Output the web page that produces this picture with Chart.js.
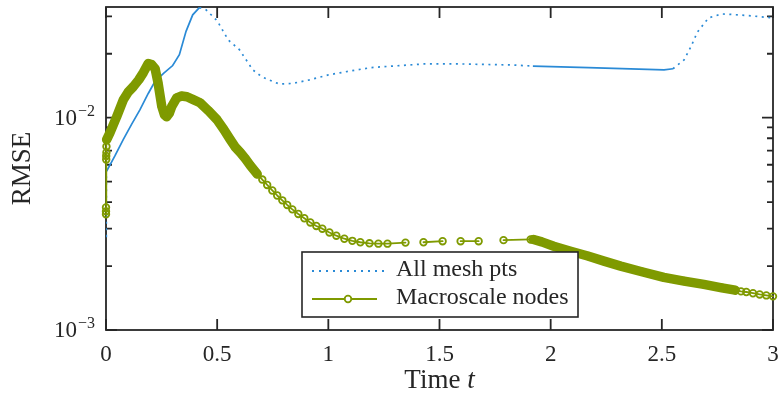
<!DOCTYPE html>
<html>
<head>
<meta charset="utf-8">
<script src="https://cdn.jsdelivr.net/npm/chart.js@4/dist/chart.umd.min.js"></script>
<style>
  html, body { margin: 0; padding: 0; background: #fff; }
</style>
</head>
<body>
<canvas id="c" width="779" height="400"></canvas>
<script>
// values (t, RMSE)
const meshTime = [0, 0, 0.003, 0.04, 0.078, 0.115, 0.153, 0.19, 0.22, 0.26, 0.30, 0.33, 0.36, 0.39, 0.42,
  0.45, 0.50, 0.55, 0.60, 0.66, 0.70, 0.75, 0.78, 0.84, 0.92, 1.00, 1.10, 1.19, 1.29, 1.43,
  1.60, 1.83, 1.92, 2.17, 2.51, 2.55, 2.60, 2.63, 2.66, 2.71, 2.77, 2.84, 2.91, 3.00];
const meshRmse = [2.76e-3, 3.32e-3, 5.6e-3, 6.6e-3, 7.9e-3, 9.3e-3, 1.09e-2, 1.30e-2, 1.48e-2, 1.62e-2, 1.76e-2, 1.98e-2, 2.55e-2, 3.05e-2, 3.30e-2,
  3.22e-2, 2.86e-2, 2.32e-2, 2.09e-2, 1.68e-2, 1.56e-2, 1.48e-2, 1.44e-2, 1.45e-2, 1.51e-2, 1.59e-2, 1.66e-2, 1.72e-2, 1.75e-2, 1.79e-2,
  1.79e-2, 1.77e-2, 1.75e-2, 1.72e-2, 1.68e-2, 1.70e-2, 1.87e-2, 2.15e-2, 2.53e-2, 2.95e-2, 3.08e-2, 3.05e-2, 3.01e-2, 2.95e-2];

const macroTime = [0, 0, 0, 0.001, 0.001, 0.002, 0.002, 0.003, 0.018, 0.048, 0.078, 0.10, 0.123, 0.148, 0.168,
  0.19, 0.205, 0.221, 0.234, 0.251, 0.263, 0.273, 0.285, 0.296, 0.318, 0.34, 0.364, 0.39, 0.423, 0.46,
  0.499, 0.53, 0.559, 0.58, 0.604, 0.627, 0.649, 0.680, 0.703, 0.725, 0.748, 0.770, 0.793, 0.815, 0.838,
  0.865, 0.892, 0.919, 0.946, 0.973, 1.005, 1.036, 1.072, 1.108, 1.144, 1.185, 1.225, 1.266, 1.347, 1.39,
  1.428, 1.514, 1.555, 1.595, 1.676, 1.73, 1.788, 1.910, 1.923, 1.96, 2.014, 2.09, 2.167, 2.24, 2.315,
  2.41, 2.509, 2.60, 2.689, 2.77, 2.83, 2.856, 2.88, 2.91, 2.94, 2.97, 3.00];
const macroRmse = [3.51e-3, 3.62e-3, 3.78e-3, 6.35e-3, 6.6e-3, 6.86e-3, 7.31e-3, 7.88e-3, 8.5e-3, 1.01e-2, 1.215e-2, 1.32e-2, 1.40e-2, 1.51e-2, 1.63e-2,
  1.80e-2, 1.78e-2, 1.70e-2, 1.46e-2, 1.13e-2, 1.03e-2, 1.01e-2, 1.05e-2, 1.13e-2, 1.24e-2, 1.265e-2, 1.255e-2, 1.22e-2, 1.176e-2, 1.08e-2,
  9.79e-3, 8.8e-3, 7.88e-3, 7.3e-3, 6.85e-3, 6.4e-3, 5.95e-3, 5.43e-3, 5.11e-3, 4.82e-3, 4.54e-3, 4.30e-3, 4.08e-3, 3.88e-3, 3.70e-3,
  3.52e-3, 3.36e-3, 3.21e-3, 3.09e-3, 3.00e-3, 2.88e-3, 2.78e-3, 2.69e-3, 2.63e-3, 2.59e-3, 2.56e-3, 2.55e-3, 2.55e-3, 2.58e-3, null,
  2.59e-3, 2.62e-3, null, 2.62e-3, 2.62e-3, null, 2.65e-3, 2.67e-3, 2.67e-3, 2.60e-3, 2.48e-3, 2.35e-3, 2.23e-3, 2.11e-3, 2.00e-3,
  1.88e-3, 1.77e-3, 1.70e-3, 1.64e-3, 1.58e-3, 1.54e-3, 1.52e-3, 1.51e-3, 1.49e-3, 1.47e-3, 1.455e-3, 1.44e-3];

const xTicks = [0, 0.5, 1, 1.5, 2, 2.5, 3];
const yMajorTicks = [1e-3, 1e-2];
const yMajorExp = ['\u22123', '\u22122'];
const yMinorTicks = [2e-3, 3e-3, 4e-3, 5e-3, 6e-3, 7e-3, 8e-3, 9e-3, 2e-2, 3e-2];

const AXIS = '#262626';
const BLUE = '#2a8ad6';
const OLIVE = '#7f9a00';
const FONT = '"Liberation Serif", "DejaVu Serif", serif';

function pts(xs, ys) {
  return xs.map((x, i) => ({ x: x, y: ys[i] }));
}

// where the original series is so dense that it reads as solid / as a thick band
function meshSolid(a, b) {
  return (a >= 0.002 && b <= 0.42) || (a >= 1.92 && b <= 2.55);
}
function macroBand(a, b) {
  return (a >= 0.003 && b <= 0.681) || (a >= 1.92 && b <= 2.84);
}

const boxPlugin = {
  id: 'box',
  beforeDatasetsDraw(chart) {
    const { ctx, chartArea: a, scales } = chart;
    ctx.save();
    ctx.strokeStyle = AXIS;
    ctx.lineWidth = 1.8;
    ctx.setLineDash([]);
    ctx.strokeRect(a.left, a.top, a.right - a.left, a.bottom - a.top);
    ctx.beginPath();
    xTicks.forEach(v => {
      const x = scales.x.getPixelForValue(v);
      ctx.moveTo(x, a.bottom); ctx.lineTo(x, a.bottom - 11);
      ctx.moveTo(x, a.top); ctx.lineTo(x, a.top + 11);
    });
    yMajorTicks.forEach(v => {
      const y = scales.y.getPixelForValue(v);
      ctx.moveTo(a.left, y); ctx.lineTo(a.left + 11, y);
      ctx.moveTo(a.right, y); ctx.lineTo(a.right - 11, y);
    });
    yMinorTicks.forEach(v => {
      const y = scales.y.getPixelForValue(v);
      ctx.moveTo(a.left, y); ctx.lineTo(a.left + 6, y);
      ctx.moveTo(a.right, y); ctx.lineTo(a.right - 6, y);
    });
    ctx.stroke();
    ctx.restore();
  },
  afterDraw(chart) {
    const { ctx, chartArea: a, scales } = chart;
    ctx.save();
    ctx.fillStyle = AXIS;
    ctx.textBaseline = 'alphabetic';

    // y tick labels 10^n
    yMajorTicks.forEach((v, i) => {
      const y = scales.y.getPixelForValue(v);
      ctx.font = '16px ' + FONT;
      const sw = ctx.measureText(yMajorExp[i]).width;
      ctx.textAlign = 'right';
      ctx.fillText(yMajorExp[i], 95, y - 2);
      ctx.font = '23px ' + FONT;
      ctx.fillText('10', 95 - sw - 1, y + 7);
    });

    // axis titles
    ctx.textAlign = 'left';
    ctx.font = '27px ' + FONT;
    const wa = ctx.measureText('Time ').width;
    ctx.font = 'italic 27px ' + FONT;
    const wb = ctx.measureText('t').width;
    const x0 = (a.left + a.right) / 2 - (wa + wb) / 2;
    ctx.font = '27px ' + FONT;
    ctx.fillText('Time ', x0, 388);
    ctx.font = 'italic 27px ' + FONT;
    ctx.fillText('t', x0 + wa, 388);

    ctx.save();
    ctx.translate(30, (a.top + a.bottom) / 2);
    ctx.rotate(-Math.PI / 2);
    ctx.textAlign = 'center';
    ctx.font = '27px ' + FONT;
    ctx.fillText('RMSE', 0, 0);
    ctx.restore();

    // legend
    const ds = chart.data.datasets;
    ctx.fillStyle = '#fff';
    ctx.fillRect(302, 252, 276, 65);
    ctx.strokeStyle = AXIS;
    ctx.lineWidth = 1.6;
    ctx.strokeRect(302, 252, 276, 65);

    ctx.strokeStyle = ds[0].borderColor;
    ctx.lineWidth = 1.8;
    ctx.setLineDash([2, 5]);
    ctx.beginPath(); ctx.moveTo(312, 271); ctx.lineTo(386, 271); ctx.stroke();
    ctx.setLineDash([]);
    ctx.strokeStyle = ds[1].borderColor;
    ctx.beginPath(); ctx.moveTo(312, 299); ctx.lineTo(377, 299); ctx.stroke();
    ctx.beginPath(); ctx.arc(348, 299, 3.3, 0, Math.PI * 2);
    ctx.fillStyle = '#fff'; ctx.fill(); ctx.stroke();

    ctx.fillStyle = AXIS;
    ctx.font = '24px ' + FONT;
    ctx.textAlign = 'left';
    ctx.fillText(ds[0].label, 396, 276);
    ctx.fillText(ds[1].label, 396, 304);
    ctx.restore();
  }
};

new Chart(document.getElementById('c'), {
  type: 'line',
  data: {
    datasets: [
      {
        label: 'All mesh pts',
        data: pts(meshTime, meshRmse),
        borderColor: BLUE,
        borderWidth: 1.7,
        pointRadius: 0,
        order: 1,
        segment: {
          borderDash: c => meshSolid(c.p0.parsed.x, c.p1.parsed.x) ? [] : [2, 4.5]
        }
      },
      {
        label: 'Macroscale nodes',
        data: pts(macroTime, macroRmse),
        borderColor: OLIVE,
        borderWidth: 1.8,
        borderCapStyle: 'round',
        borderJoinStyle: 'round',
        pointRadius: 3.3,
        pointBorderWidth: 1.8,
        pointBorderColor: OLIVE,
        pointBackgroundColor: 'rgba(255,255,255,0)',
        spanGaps: false,
        clip: false,
        order: 0,
        segment: {
          borderWidth: c => macroBand(c.p0.parsed.x, c.p1.parsed.x) ? 9.5 : 1.8
        }
      }
    ]
  },
  options: {
    responsive: false,
    animation: false,
    devicePixelRatio: 1,
    layout: { padding: { left: 0, right: 6, top: 7, bottom: 0 } },
    plugins: { legend: { display: false }, tooltip: { enabled: false } },
    scales: {
      x: {
        type: 'linear',
        min: 0,
        max: 3,
        grid: { display: false },
        border: { display: false },
        afterBuildTicks: s => { s.ticks = xTicks.map(v => ({ value: v })); },
        ticks: {
          color: AXIS,
          font: { family: FONT, size: 23 },
          padding: 3,
          maxRotation: 0,
          autoSkip: false,
          callback: v => String(v)
        },
        afterFit: s => { s.height = 70; s.paddingLeft = 0; s.paddingRight = 0; }
      },
      y: {
        type: 'logarithmic',
        min: 1e-3,
        max: 0.0332,
        grid: { display: false },
        border: { display: false },
        ticks: { display: false },
        afterFit: s => { s.width = 106; s.paddingTop = 0; s.paddingBottom = 0; }
      }
    }
  },
  plugins: [boxPlugin]
});
</script>
</body>
</html>
